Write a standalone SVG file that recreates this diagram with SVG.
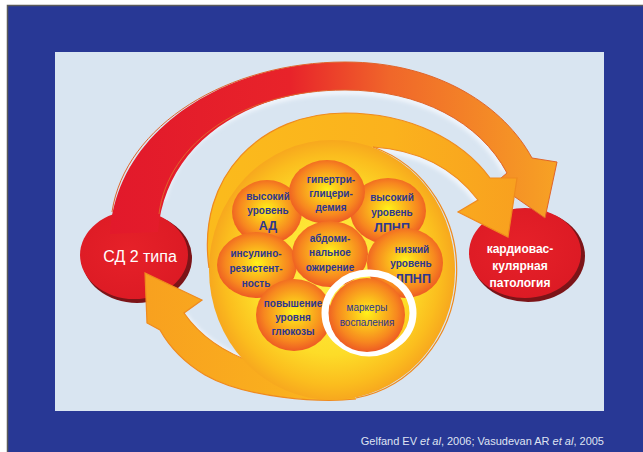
<svg xmlns="http://www.w3.org/2000/svg" width="643" height="452" viewBox="0 0 643 452">
  <defs>
    <linearGradient id="gArc" gradientUnits="userSpaceOnUse" x1="110" y1="0" x2="560" y2="0">
      <stop offset="0" stop-color="#e2192b"/>
      <stop offset="0.4" stop-color="#e8232a"/>
      <stop offset="0.62" stop-color="#f0662a"/>
      <stop offset="1" stop-color="#f7a324"/>
    </linearGradient>
    <linearGradient id="gBand" gradientUnits="userSpaceOnUse" x1="200" y1="0" x2="520" y2="0">
      <stop offset="0" stop-color="#fbbb1c"/>
      <stop offset="0.6" stop-color="#fbb21d"/>
      <stop offset="1" stop-color="#f8a01f"/>
    </linearGradient>
    <linearGradient id="gReturn" gradientUnits="userSpaceOnUse" x1="140" y1="0" x2="360" y2="0">
      <stop offset="0" stop-color="#f8a01f"/>
      <stop offset="1" stop-color="#fbb81d"/>
    </linearGradient>
    <radialGradient id="gDisk" cx="0.5" cy="0.5" r="0.5">
      <stop offset="0" stop-color="#fff24a"/>
      <stop offset="0.65" stop-color="#fddc28"/>
      <stop offset="0.88" stop-color="#fbbd1e"/>
      <stop offset="1" stop-color="#f7a81e"/>
    </radialGradient>
    <radialGradient id="gBubble" cx="0.5" cy="0.47" r="0.55">
      <stop offset="0" stop-color="#fff21a"/>
      <stop offset="0.3" stop-color="#fcc51b"/>
      <stop offset="0.72" stop-color="#f7871f"/>
      <stop offset="1" stop-color="#ec5424"/>
    </radialGradient>
    <radialGradient id="gRed" cx="0.45" cy="0.45" r="0.6">
      <stop offset="0" stop-color="#e62129"/>
      <stop offset="1" stop-color="#dc1a24"/>
    </radialGradient>
    <filter id="glow" x="-10%" y="-10%" width="120%" height="120%">
      <feGaussianBlur stdDeviation="2"/>
    </filter>
  </defs>
  <style>
    .bubble { fill: url(#gBubble); }
    .btxt { font-family: "Liberation Sans", Arial, sans-serif; font-size: 10px; font-weight: bold; fill: #2c3690; text-anchor: middle; }
    .big { font-size: 12.5px; }
    .thin { font-weight: normal; }
    .wtxt { font-family: "Liberation Sans", Arial, sans-serif; fill: #ffffff; text-anchor: middle; }
    .shade { fill: #7c1418; }
    .rim { fill: none; stroke: #ef8a1e; stroke-width: 1.2; }
    .redrim { fill: none; stroke: #e0642a; stroke-width: 1; }
    .halo { fill: none; stroke: #f4f8fd; stroke-width: 5; filter: url(#glow); }
  </style>

  <!-- page frame -->
  <rect x="0" y="0" width="643" height="452" fill="#ffffff"/>
  <rect x="7" y="5" width="636" height="447" fill="#283895"/>
  <path d="M7.5 452 V5.5 H643" fill="none" stroke="#5a5a5a" stroke-width="1.5"/>
  <rect x="55" y="52" width="549" height="359" fill="#d9e5f1"/>

  <!-- left node -->
  <g id="node-diabetes">
    <ellipse class="shade" cx="137" cy="258" rx="55" ry="45"/>
    <ellipse cx="134" cy="255" rx="54" ry="44" fill="url(#gRed)"/>
    <text class="wtxt" x="140" y="262" font-size="16">СД 2 типа</text>
  </g>

  <!-- right node -->
  <g id="node-cardio">
    <ellipse class="shade" cx="528" cy="256" rx="57" ry="46"/>
    <ellipse cx="525" cy="253" rx="56" ry="45" fill="url(#gRed)"/>
    <text class="wtxt" font-size="12" font-weight="bold"><tspan x="520" y="253">кардиовас-</tspan><tspan x="520" y="270">кулярная</tspan><tspan x="520" y="287">патология</tspan></text>
  </g>

  <!-- connectors -->
  <g id="connectors">
    <!-- soft light edges under the arrows -->
    <path class="halo" d="M163 200 C178 135 252 92 345 92 C420 92 478 122 505 172"/>
    <path class="halo" d="M478 202 C455 172 420 152 373 149"/>
    <path class="halo" d="M184 315 C200 337 225 354 255 364"/>
    <!-- big arc from diabetes to cardiovascular pathology -->
    <path id="arc-main" d="M110 234 C116 130 225 62 345 62 C440 62 505 108 532 158 L557 162 L545 218 L495 183 L507 173 C480 122 420 90 345 90 C245 90 165 145 158 232 Z" fill="url(#gArc)"/>
    <path class="redrim" d="M112 212 C125 125 228 62 345 62 C440 62 505 108 532 158 L557 162 L545 218 L495 183 L507 173 C480 122 420 90 345 90 C245 90 168 142 159 214"/>
    <!-- return arrow back to diabetes -->
    <path id="arc-return" d="M356 399 C320 403 245 398 205 375 C185 363 170 348 160 330 L147 323 L145 273 L202 300 L184 313 C200 336 225 353 255 363 L330 360 Z" fill="url(#gReturn)"/>
    <path class="rim" d="M356 399 C320 403 245 398 205 375 C185 363 170 348 160 330 L147 323 L145 273 L202 300 L184 313 C200 336 225 353 255 363"/>
  </g>

  <!-- central cluster disk with its outgoing arrow -->
  <g id="cluster">
    <path id="arc-inner" d="M209 268 C196 175 262 113 345 113 C410 113 462 140 490 178 L517 178 L508 237 L458 212 L478 200 C455 170 420 150 373 147 L330 200 Z" fill="url(#gBand)"/>
    <ellipse cx="332" cy="270" rx="123" ry="130" fill="url(#gDisk)"/>
    <path class="rim" d="M209 268 C196 175 262 113 345 113 C410 113 462 140 490 178 L517 178 L508 237 L458 212 L478 200 C455 170 420 150 373 147"/>
    <path class="rim" d="M373 147 A123 130 0 0 1 356 398"/>
  </g>

  <!-- risk factor bubbles -->
  <g id="f-ad">
    <ellipse class="bubble" cx="267" cy="212" rx="35" ry="32"/>
    <text class="btxt"><tspan x="268" y="200">высокий</tspan><tspan x="268" y="214">уровень</tspan><tspan class="big" x="268" y="230">АД</tspan></text>
  </g>
  <g id="f-ldl-high">
    <ellipse class="bubble" cx="388" cy="211" rx="38" ry="33"/>
    <text class="btxt"><tspan x="392" y="201">высокий</tspan><tspan x="392" y="216">уровень</tspan><tspan class="big" x="392" y="232">ЛПНП</tspan></text>
  </g>
  <g id="f-tg">
    <ellipse class="bubble" cx="327" cy="192" rx="38" ry="32"/>
    <text class="btxt"><tspan x="331" y="183">гипертри-</tspan><tspan x="331" y="197">глицери-</tspan><tspan x="331" y="211">демия</tspan></text>
  </g>
  <g id="f-ir">
    <ellipse class="bubble" cx="257" cy="265" rx="40" ry="33"/>
    <text class="btxt"><tspan x="256" y="257">инсулино-</tspan><tspan x="256" y="272">резистент-</tspan><tspan x="256" y="287">ность</tspan></text>
  </g>
  <g id="f-hdl-low">
    <ellipse class="bubble" cx="405" cy="263" rx="38" ry="35"/>
    <text class="btxt"><tspan x="412" y="253">низкий</tspan><tspan x="411" y="267">уровень</tspan><tspan class="big" x="413" y="283">ЛПНП</tspan></text>
  </g>
  <g id="f-obesity">
    <ellipse class="bubble" cx="330" cy="254" rx="38" ry="33"/>
    <text class="btxt"><tspan x="330" y="242">абдоми-</tspan><tspan x="330" y="256">нальное</tspan><tspan x="330" y="271">ожирение</tspan></text>
  </g>
  <g id="f-glucose">
    <ellipse class="bubble" cx="294" cy="315" rx="38" ry="36"/>
    <text class="btxt"><tspan x="293" y="307">повышение</tspan><tspan x="293" y="321">уровня</tspan><tspan x="293" y="335">глюкозы</tspan></text>
  </g>
  <g id="f-inflammation">
    <ellipse cx="369" cy="313" rx="44" ry="40" fill="none" stroke="#ffffff" stroke-width="7"/>
    <ellipse class="bubble" cx="367" cy="315" rx="38" ry="37"/>
    <text class="btxt thin"><tspan x="367" y="311">маркеры</tspan><tspan x="367" y="326">воспаления</tspan></text>
  </g>

  <!-- source line -->
  <text x="604" y="445" font-family="Liberation Sans, Arial, sans-serif" font-size="11" fill="#dfe3f2" text-anchor="end">Gelfand EV <tspan font-style="italic">et al</tspan>, 2006; Vasudevan AR <tspan font-style="italic">et al</tspan>, 2005</text>
</svg>
